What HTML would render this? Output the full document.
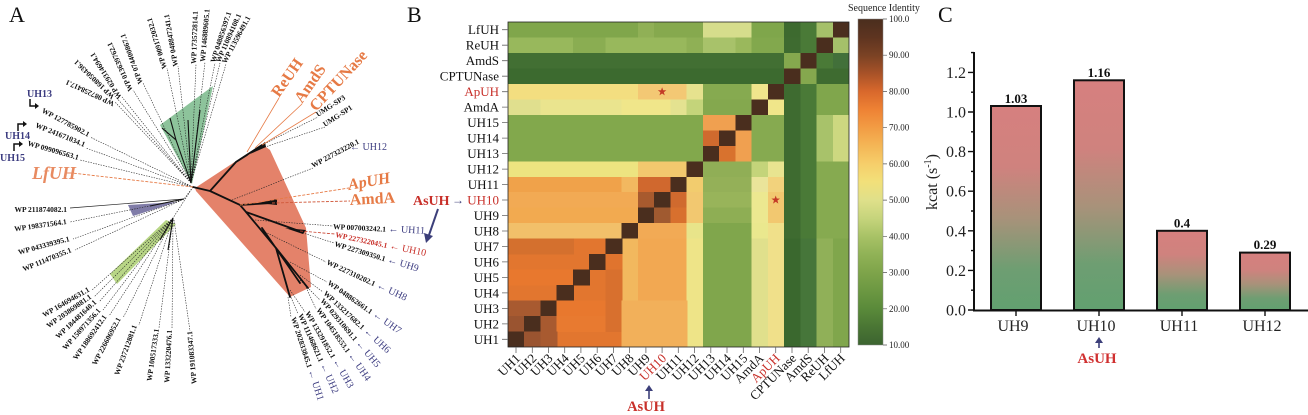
<!DOCTYPE html>
<html><head><meta charset="utf-8">
<style>
html,body{margin:0;padding:0;background:#fff;}
svg{display:block;font-family:"Liberation Serif",serif;}
.wp{font-size:7.5px;font-weight:bold;fill:#111;}
.nv{font-size:10px;fill:#3c3c80;}
.dl{stroke:#222;stroke-width:0.6;stroke-dasharray:1.4 1.2;fill:none;}
.bl{stroke:#111;stroke-width:1.8;fill:none;stroke-linecap:round;}
.ol{stroke:#e67a45;stroke-width:0.8;fill:none;}
.rl{stroke:#c8402e;stroke-width:0.8;stroke-dasharray:3 1.5;fill:none;}
.org{fill:#e67a45;font-weight:bold;font-size:16px;}
.rowl{font-size:13px;fill:#111;text-anchor:end;}
.coll{font-size:13px;fill:#111;text-anchor:end;}
.cb{font-size:9px;fill:#222;}
.ax{font-size:16px;fill:#222;}
</style></head>
<body>
<svg width="1308" height="415" viewBox="0 0 1308 415" xmlns="http://www.w3.org/2000/svg">
<defs>
<linearGradient id="cbg" x1="0" y1="0" x2="0" y2="1">
<stop offset="0" stop-color="#4a2e1e"/><stop offset=".056" stop-color="#5e3420"/><stop offset=".111" stop-color="#7a4224"/>
<stop offset=".167" stop-color="#a85228"/><stop offset=".222" stop-color="#d8682c"/><stop offset=".278" stop-color="#ee8234"/>
<stop offset=".333" stop-color="#f29c44"/><stop offset=".389" stop-color="#f4b656"/><stop offset=".444" stop-color="#f6ce6a"/>
<stop offset=".5" stop-color="#f2e07a"/><stop offset=".556" stop-color="#dfe08a"/><stop offset=".611" stop-color="#c6d47c"/>
<stop offset=".667" stop-color="#a8c266"/><stop offset=".722" stop-color="#90b256"/><stop offset=".778" stop-color="#7ea44a"/>
<stop offset=".833" stop-color="#6c9842"/><stop offset=".889" stop-color="#5a8a3a"/><stop offset=".944" stop-color="#4a7634"/>
<stop offset="1" stop-color="#3c6430"/>
</linearGradient>
<linearGradient id="bar" x1="0" y1="0" x2="0" y2="1">
<stop offset="0" stop-color="#d6807f"/><stop offset=".3" stop-color="#cf827e"/><stop offset=".55" stop-color="#a8927a"/>
<stop offset=".8" stop-color="#6e9e72"/><stop offset="1" stop-color="#62a070"/>
</linearGradient>
</defs>

<!-- ================= PANEL A ================= -->
<text x="9" y="22" font-size="22" fill="#111">A</text>

<!-- wedges -->
<polygon points="195,188 262,144 270,150 306,228 311,287 290,297 196,191" fill="#e4826a"/>
<polygon points="160,125 213,86 192,184" fill="#8dc39b"/>
<polygon points="128,205 177,202 133,216" fill="#807ca8"/>
<polygon points="110,274 166,220 176,224 117,284" fill="#b8d686"/>

<!-- top group lines -->
<g class="dl">
<path d="M191,183 L167,68 M191,183 L178,66 M191,183 L196,64 M191,183 L205,62 M191,183 L215,63 M191,183 L220,63 M191,183 L226,64 M191,183 L143,83 M191,183 L133,90 M191,183 L122,97 M191,183 L115,96 M191,183 L115,102"/>
<path d="M193,187 L90,137 M193,187 L86,148 M193,187 L80,160"/>
<path d="M193,187 L184,199 M193,187 L173,218"/>
<path d="M184,199 L70,222 M184,199 L73,239 M184,199 L75,250"/>
<path d="M173,218 L92,290 M173,218 L94,297 M173,218 L99,302 M173,218 L103,310 M173,218 L109,316 M173,218 L123,318 M173,218 L139,325 M173,218 L159,328 M173,220 L172,329 M174,220 L190,331"/>
<path d="M262,145 L318,117 M262,148 L325,127 M232,200 L313,168 M255,220 L333,226 M300,232 L334,243 M265,232 L326,262 M290,262 L327,282 M300,275 L323,292 M300,280 L320,300 M305,285 L316,309 M290,290 L305,312 M290,295 L298,314 M288,297 L291,317"/>
</g>
<path d="M184,199 L70,208" stroke="#222" stroke-width="0.7"/>
<g stroke="#111" stroke-width="1.1" fill="none">
<path d="M191,183 L176,140 L162,128 M191,183 L188,120 M191,183 L200,110 M176,140 L170,118"/>
<path d="M173,218 L160,240 M173,218 L168,250 M184,199 L150,206"/>
</g>
<!-- salmon internal -->
<g class="bl">
<path d="M193,187 L210,191 L236,162 L262,145 M236,162 L247,155 M210,191 L240,205 L272,203 M240,205 L246,212 L302,232 M246,212 L276,248 L308,288 M276,248 L290,297 M262,228 L300,283"/>
</g>
<polygon points="258,203 277,199 277,205" fill="#111"/>
<polygon points="285,228 306,230 303,234" fill="#111"/>
<polygon points="250,154 265,142 266,147" fill="#111"/>
<g class="ol">
<path d="M247,152 L279,98 M255,148 L302,104 M262,145 L316,112"/>
</g>
<path d="M193,187 L72,173" stroke="#e67a45" stroke-width="0.9" stroke-dasharray="3 1.5"/>
<path d="M240,205 L349,188" stroke="#e67a45" stroke-width="0.9" stroke-dasharray="3 1.5"/>
<path d="M272,203 L350,201" stroke="#d0583a" stroke-width="0.9" stroke-dasharray="3 1.5"/>
<path class="rl" d="M300,231 L335,234"/>

<!-- top labels (non flipped) -->
<g class="wp">
<text transform="translate(167 68) rotate(-107)">WP 009172032.1</text>
<text transform="translate(178 66) rotate(-100)">WP 048847241.1</text>
<text transform="translate(196 64) rotate(-88)">WP 173572814.1</text>
<text transform="translate(205 62) rotate(-85)">WP 146889605.1</text>
<text transform="translate(215 63) rotate(-72)">WP 048856397.1</text>
<text transform="translate(220 63) rotate(-66)">WP 110894108.1</text>
<text transform="translate(226 64) rotate(-62)">WP 113596491.1</text>
<text transform="translate(143 83) rotate(-110)">WP 074400867.1</text>
<text transform="translate(133 90) rotate(-114)">WP 013639762.1</text>
<text transform="translate(122 97) rotate(-122)">WP 029314694.1</text>
<text transform="translate(115 96) rotate(-136)">WP 168050436.1</text>
<text transform="translate(115 102) rotate(-155)">WP 087258417.1</text>
</g>
<!-- left flipped -->
<g class="wp" text-anchor="end">
<text transform="translate(88 137) rotate(28)">WP 127785902.1</text>
<text transform="translate(84 147) rotate(22)">WP 241671034.1</text>
<text transform="translate(78 160) rotate(16)">WP 099096563.1</text>
<text transform="translate(67 212)">WP 211874082.1</text>
<text transform="translate(67 224) rotate(-8)">WP 198371564.1</text>
<text transform="translate(70 241) rotate(-15)">WP 043339395.1</text>
<text transform="translate(72 252) rotate(-22)">WP 111470355.1</text>
<text transform="translate(90 291) rotate(-30)">WP 164694631.1</text>
<text transform="translate(92 298) rotate(-35)">WP 203869881.1</text>
<text transform="translate(97 303) rotate(-43)">WP 184481640.1</text>
<text transform="translate(101 311) rotate(-48)">WP 158971356.1</text>
<text transform="translate(107 317) rotate(-55)">WP 188692412.1</text>
<text transform="translate(121 319) rotate(-62)">WP 226606952.1</text>
<text transform="translate(137 326) rotate(-70)">WP 237212881.1</text>
<text transform="translate(159 329) rotate(-82)">WP 100517333.1</text>
<text transform="translate(172 330) rotate(-87)">WP 133220476.1</text>
<text transform="translate(192 331) rotate(-95)">WP 191083347.1</text>
</g>
<g font-weight="bold" font-size="10" fill="#3c3c80">
<text x="27" y="97">UH13</text>
<text x="5" y="139">UH14</text>
<text x="0" y="161">UH15</text>
</g>
<g stroke="#111" stroke-width="1.5" fill="none">
<path d="M30,99 V106 H36"/><path d="M18,131 V124 H24"/><path d="M14,151 V144 H20"/>
</g>
<g fill="#111">
<polygon points="39,106 35,103 35,109"/><polygon points="27,124 23,121 23,127"/><polygon points="23,144 19,141 19,147"/>
</g>
<text x="32" y="179" font-size="18" font-weight="bold" font-style="italic" fill="#e88a60">LfUH</text>

<!-- right labels -->
<g class="org">
<text transform="translate(279 98) rotate(-55)">ReUH</text>
<text transform="translate(302 104) rotate(-55)">AmdS</text>
<text transform="translate(316 112) rotate(-47)">CPTUNase</text>
<text transform="translate(349 190) rotate(-10)" font-style="italic">ApUH</text>
<text transform="translate(350 205) rotate(-3)">AmdA</text>
</g>
<g class="wp">
<text transform="translate(318 117) rotate(-33)">UMG-SP3</text>
<text transform="translate(325 127) rotate(-33)">UMG-SP1</text>
<text transform="translate(313 168) rotate(-28)">WP 227323220.1</text>
</g>
<text x="350" y="150" class="nv">← UH12</text>
<g>
<text transform="translate(333 229) rotate(3)"><tspan class="wp">WP 007003242.1</tspan><tspan class="nv"> ← UH11</tspan></text>
<text transform="translate(335 237) rotate(12)" fill="#c8302a"><tspan font-size="7.5" font-weight="bold">WP 227322045.1</tspan><tspan font-size="10"> ← UH10</tspan></text>
<text transform="translate(334 246) rotate(17)"><tspan class="wp">WP 227309350.1</tspan><tspan class="nv"> ← UH9</tspan></text>
<text transform="translate(326 264) rotate(25)"><tspan class="wp">WP 227310202.1</tspan><tspan class="nv"> ← UH8</tspan></text>
<text transform="translate(327 284) rotate(35)"><tspan class="wp">WP 048862661.1</tspan><tspan class="nv"> ← UH7</tspan></text>
<text transform="translate(323 294) rotate(43)"><tspan class="wp">WP 133217682.1</tspan><tspan class="nv"> ← UH6</tspan></text>
<text transform="translate(320 301) rotate(50)"><tspan class="wp">WP 029310691.1</tspan><tspan class="nv"> ← UH5</tspan></text>
<text transform="translate(316 310) rotate(55)"><tspan class="wp">WP 104518553.1</tspan><tspan class="nv"> ← UH4</tspan></text>
<text transform="translate(305 313) rotate(60)"><tspan class="wp">WP 133291852.1</tspan><tspan class="nv"> ← UH3</tspan></text>
<text transform="translate(298 315) rotate(66)"><tspan class="wp">WP 111468621.1</tspan><tspan class="nv"> ← UH2</tspan></text>
<text transform="translate(291 318) rotate(72)"><tspan class="wp">WP 202833845.1</tspan><tspan class="nv"> ← UH1</tspan></text>
</g>
<!-- AsUH arrow to UH10 -->
<path d="M438,209 L429,235" stroke="#3c3f7a" stroke-width="2" fill="none"/>
<polygon points="426,243 424,233 433,236" fill="#3c3f7a"/>

<!-- ================= PANEL B ================= -->
<text x="407" y="22" font-size="22" fill="#111">B</text>
<svg x="508" y="22" width="341" height="325" viewBox="0 0 21 21" preserveAspectRatio="none" shape-rendering="crispEdges">
<!-- row 0 LfUH -->
<rect x="0" y="0" width="8.05" height="1.03" fill="#80a64b"/><rect x="8" y="0" width="1.05" height="1.03" fill="#90b056"/><rect x="9" y="0" width="3.05" height="1.03" fill="#86a94e"/><rect x="12" y="0" width="3.05" height="1.03" fill="#d6dd8c"/><rect x="15" y="0" width="2.05" height="1.03" fill="#7fa64b"/><rect x="17" y="0" width="1.05" height="1.03" fill="#3d6a2f"/><rect x="18" y="0" width="1.05" height="1.03" fill="#4a7a37"/><rect x="19" y="0" width="1.05" height="1.03" fill="#a5c06a"/><rect x="20" y="0" width="1" height="1.03" fill="#4a2e1e"/>
<!-- row 1 ReUH -->
<rect x="0" y="1" width="4.05" height="1.03" fill="#98b85c"/><rect x="4" y="1" width="2.05" height="1.03" fill="#8aad52"/><rect x="6" y="1" width="5.05" height="1.03" fill="#98b85c"/><rect x="11" y="1" width="1.05" height="1.03" fill="#8fb055"/><rect x="12" y="1" width="2.05" height="1.03" fill="#a8c26a"/><rect x="14" y="1" width="1.05" height="1.03" fill="#9ab85c"/><rect x="15" y="1" width="2.05" height="1.03" fill="#82a84d"/><rect x="17" y="1" width="1.05" height="1.03" fill="#3e6b30"/><rect x="18" y="1" width="1.05" height="1.03" fill="#4a7a37"/><rect x="19" y="1" width="1.05" height="1.03" fill="#4a2e1e"/><rect x="20" y="1" width="1" height="1.03" fill="#a5c06a"/>
<!-- row 2 AmdS -->
<rect x="0" y="2" width="17.05" height="1.03" fill="#426f33"/><rect x="17" y="2" width="1.05" height="1.03" fill="#85a84e"/><rect x="18" y="2" width="1.05" height="1.03" fill="#4a2e1e"/><rect x="19" y="2" width="1.05" height="1.03" fill="#4a7a37"/><rect x="20" y="2" width="1" height="1.03" fill="#42703a"/>
<!-- row 3 CPTUNase -->
<rect x="0" y="3" width="17.05" height="1.03" fill="#3c6a2f"/><rect x="17" y="3" width="1.05" height="1.03" fill="#4a2e1e"/><rect x="18" y="3" width="1.05" height="1.03" fill="#85a84e"/><rect x="19" y="3" width="2" height="1.03" fill="#3e6b30"/>
<!-- row 4 ApUH -->
<rect x="0" y="4" width="8.05" height="1.03" fill="#f3de80"/><rect x="8" y="4" width="3.05" height="1.03" fill="#f3c874"/><rect x="11" y="4" width="1.05" height="1.03" fill="#e6e28e"/><rect x="12" y="4" width="3.05" height="1.03" fill="#86aa50"/><rect x="15" y="4" width="1.05" height="1.03" fill="#f0e68c"/><rect x="16" y="4" width="1.05" height="1.03" fill="#4a2e1e"/><rect x="17" y="4" width="1.05" height="1.03" fill="#3e6b30"/><rect x="18" y="4" width="1.05" height="1.03" fill="#4a7a37"/><rect x="19" y="4" width="2" height="1.03" fill="#80a64c"/>
<!-- row 5 AmdA -->
<rect x="0" y="5" width="2.05" height="1.03" fill="#e0df8e"/><rect x="2" y="5" width="5.05" height="1.03" fill="#eae48e"/><rect x="7" y="5" width="3.05" height="1.03" fill="#f0e68a"/><rect x="10" y="5" width="1.05" height="1.03" fill="#e4e290"/><rect x="11" y="5" width="1.05" height="1.03" fill="#c4d47a"/><rect x="12" y="5" width="3.05" height="1.03" fill="#84a84e"/><rect x="15" y="5" width="1.05" height="1.03" fill="#4a2e1e"/><rect x="16" y="5" width="1.05" height="1.03" fill="#f0e68a"/><rect x="17" y="5" width="1.05" height="1.03" fill="#3e6b30"/><rect x="18" y="5" width="1.05" height="1.03" fill="#4a7a37"/><rect x="19" y="5" width="2" height="1.03" fill="#80a64c"/>
<!-- rows 6-8 UH15,UH14,UH13 -->
<rect x="0" y="6" width="12.05" height="3.03" fill="#82a84c"/>
<rect x="12" y="6" width="2.05" height="1.03" fill="#f0a050"/><rect x="14" y="6" width="1.05" height="1.03" fill="#4a2e1e"/>
<rect x="12" y="7" width="1.05" height="1.03" fill="#d06a2e"/><rect x="13" y="7" width="1.05" height="1.03" fill="#4a2e1e"/><rect x="14" y="7" width="1.05" height="1.03" fill="#f0a050"/>
<rect x="12" y="8" width="1.05" height="1.03" fill="#4a2e1e"/><rect x="13" y="8" width="1.05" height="1.03" fill="#d8722e"/><rect x="14" y="8" width="1.05" height="1.03" fill="#f0a050"/>
<rect x="15" y="6" width="2.05" height="3.03" fill="#86aa50"/><rect x="17" y="6" width="1.05" height="3.03" fill="#3e6b30"/><rect x="18" y="6" width="1.05" height="3.03" fill="#4a7a37"/><rect x="19" y="6" width="1.05" height="3.03" fill="#a8c26a"/><rect x="20" y="6" width="1" height="3.03" fill="#cdd880"/>
<!-- row 9 UH12 -->
<rect x="0" y="9" width="8.05" height="1.03" fill="#ede480"/><rect x="8" y="9" width="3.05" height="1.03" fill="#f2c86e"/><rect x="11" y="9" width="1.05" height="1.03" fill="#4a2e1e"/><rect x="12" y="9" width="3.05" height="1.03" fill="#90ae56"/><rect x="15" y="9" width="1.05" height="1.03" fill="#c4d47a"/><rect x="16" y="9" width="1.05" height="1.03" fill="#e8e490"/><rect x="17" y="9" width="1.05" height="1.03" fill="#3e6b30"/><rect x="18" y="9" width="1.05" height="1.03" fill="#4a7a37"/><rect x="19" y="9" width="2" height="1.03" fill="#86aa50"/>
<!-- row 10 UH11 -->
<rect x="0" y="10" width="7.05" height="1.03" fill="#f0a24a"/><rect x="7" y="10" width="1.05" height="1.03" fill="#f2b860"/><rect x="8" y="10" width="2.05" height="1.03" fill="#d0682e"/><rect x="10" y="10" width="1.05" height="1.03" fill="#4a2e1e"/><rect x="11" y="10" width="1.05" height="1.03" fill="#f2cc6e"/><rect x="12" y="10" width="3.05" height="1.03" fill="#94b058"/><rect x="15" y="10" width="1.05" height="1.03" fill="#eae49a"/><rect x="16" y="10" width="1.05" height="1.03" fill="#f2d27c"/>
<!-- row 11 UH10 -->
<rect x="0" y="11" width="8.05" height="1.03" fill="#f2aa54"/><rect x="8" y="11" width="1.05" height="1.03" fill="#a85a2e"/><rect x="9" y="11" width="1.05" height="1.03" fill="#4a2e1e"/><rect x="10" y="11" width="1.05" height="1.03" fill="#d06a2e"/><rect x="11" y="11" width="1.05" height="1.03" fill="#f2c870"/><rect x="12" y="11" width="3.05" height="1.03" fill="#98b45a"/><rect x="15" y="11" width="1.05" height="1.03" fill="#ece890"/><rect x="16" y="11" width="1.05" height="1.03" fill="#f2c870"/>
<!-- row 12 UH9 -->
<rect x="0" y="12" width="8.05" height="1.03" fill="#f2aa50"/><rect x="8" y="12" width="1.05" height="1.03" fill="#4a2e1e"/><rect x="9" y="12" width="1.05" height="1.03" fill="#a05a30"/><rect x="10" y="12" width="1.05" height="1.03" fill="#d8702e"/><rect x="11" y="12" width="1.05" height="1.03" fill="#f2c870"/><rect x="12" y="12" width="3.05" height="1.03" fill="#8eae54"/><rect x="15" y="12" width="1.05" height="1.03" fill="#ece890"/><rect x="16" y="12" width="1.05" height="1.03" fill="#f2c870"/>
<!-- row 13 UH8 -->
<rect x="0" y="13" width="7.05" height="1.03" fill="#f2c06a"/><rect x="7" y="13" width="1.05" height="1.03" fill="#4a2e1e"/><rect x="8" y="13" width="3.05" height="1.03" fill="#f2aa55"/><rect x="11" y="13" width="1.05" height="1.03" fill="#e8e48a"/><rect x="12" y="13" width="3.05" height="1.03" fill="#80a64c"/><rect x="15" y="13" width="1.05" height="1.03" fill="#eae88e"/><rect x="16" y="13" width="1.05" height="1.03" fill="#f0e08a"/>
<!-- rows 10-13 tail -->
<rect x="17" y="10" width="1.05" height="4.03" fill="#3e6b30"/><rect x="18" y="10" width="1.05" height="4.03" fill="#4a7a37"/><rect x="19" y="10" width="2" height="4.03" fill="#86aa50"/>
<!-- rows 14-20 -->
<rect x="0" y="14" width="7.05" height="7" fill="#e2762f"/>
<rect x="7" y="14" width="1.05" height="7" fill="#f2b85e"/><rect x="8" y="14" width="3.05" height="7" fill="#f2a852"/>
<rect x="11" y="14" width="1.05" height="7" fill="#eee488"/><rect x="12" y="14" width="3.05" height="7" fill="#80a64c"/><rect x="15" y="14" width="1.05" height="7" fill="#e0e08c"/><rect x="16" y="14" width="1.05" height="7" fill="#f0e08a"/><rect x="17" y="14" width="1.05" height="7" fill="#3a682e"/><rect x="18" y="14" width="1.05" height="7" fill="#46763a"/><rect x="19" y="14" width="1.05" height="7" fill="#90b058"/><rect x="20" y="14" width="1" height="7" fill="#80a64c"/>
<!-- block detail -->
<rect x="0" y="14" width="4.05" height="1.03" fill="#d4702e"/><rect x="6" y="14" width="1.05" height="1.03" fill="#4a2e1e"/>
<rect x="5" y="15" width="1.05" height="1.03" fill="#4a2e1e"/><rect x="6" y="15" width="1.05" height="1.03" fill="#e0742e"/>
<rect x="0" y="16" width="4.05" height="1.03" fill="#e8782e"/><rect x="4" y="16" width="1.05" height="1.03" fill="#4a2e1e"/><rect x="6" y="16" width="1.05" height="1.03" fill="#d8702e"/>
<rect x="3" y="17" width="1.05" height="1.03" fill="#4a2e1e"/><rect x="6" y="17" width="1.05" height="1.03" fill="#d8702e"/>
<rect x="0" y="18" width="2.05" height="1.03" fill="#a85a30"/><rect x="2" y="18" width="1.05" height="1.03" fill="#4a2e1e"/><rect x="3" y="18" width="3.05" height="1.03" fill="#e8782e"/><rect x="6" y="18" width="1.05" height="1.03" fill="#d8702e"/>
<rect x="0" y="19" width="1.05" height="1.03" fill="#9a5430"/><rect x="1" y="19" width="1.05" height="1.03" fill="#4a2e1e"/><rect x="2" y="19" width="1.05" height="1.03" fill="#a85a30"/><rect x="3" y="19" width="3.05" height="1.03" fill="#e87a30"/><rect x="6" y="19" width="1.05" height="1.03" fill="#d8702e"/>
<rect x="0" y="20" width="1.05" height="1" fill="#4a2e1e"/><rect x="1" y="20" width="1.05" height="1" fill="#9a5430"/><rect x="2" y="20" width="1.05" height="1" fill="#a85a30"/>
<rect x="7" y="18" width="4.05" height="3" fill="#f2b05a"/>
</svg>
<rect x="508" y="22" width="341" height="325" fill="none" stroke="#222" stroke-width="0.8"/>
<!-- stars -->
<polygon transform="translate(662.1 91.7)" points="0,-4.5 1.06,-1.46 4.28,-1.39 1.71,0.56 2.65,3.64 0,1.8 -2.65,3.64 -1.71,0.56 -4.28,-1.39 -1.06,-1.46" fill="#c43a26"/>
<polygon transform="translate(775.7 200)" points="0,-4.5 1.06,-1.46 4.28,-1.39 1.71,0.56 2.65,3.64 0,1.8 -2.65,3.64 -1.71,0.56 -4.28,-1.39 -1.06,-1.46" fill="#c43a26"/>
<!-- row ticks -->
<g stroke="#666" stroke-width="0.8">
<path d="M502,29.7H508M502,45.2H508M502,60.7H508M502,76.2H508M502,91.7H508M502,107.1H508M502,122.6H508M502,138.1H508M502,153.6H508M502,169.1H508M502,184.5H508M502,200H508M502,215.5H508M502,231H508M502,246.4H508M502,261.9H508M502,277.4H508M502,292.9H508M502,308.4H508M502,323.9H508M502,339.3H508"/>
<path d="M516,347V353M532.3,347V353M548.5,347V353M564.7,347V353M580.9,347V353M597.2,347V353M613.4,347V353M629.6,347V353M645.9,347V353M662.1,347V353M678.3,347V353M694.6,347V353M710.8,347V353M727,347V353M743.3,347V353M759.5,347V353M775.7,347V353M792,347V353M808.2,347V353M824.4,347V353M840.7,347V353"/>
</g>
<g class="rowl">
<text x="499" y="34.2">LfUH</text><text x="499" y="49.7">ReUH</text><text x="499" y="65.2">AmdS</text><text x="499" y="80.7">CPTUNase</text>
<text x="499" y="96.2" fill="#c8302a">ApUH</text><text x="499" y="111.6">AmdA</text><text x="499" y="127.1">UH15</text><text x="499" y="142.6">UH14</text>
<text x="499" y="158.1">UH13</text><text x="499" y="173.6">UH12</text><text x="499" y="189">UH11</text><text x="499" y="204.5" fill="#c8302a">UH10</text>
<text x="499" y="220">UH9</text><text x="499" y="235.5">UH8</text><text x="499" y="250.9">UH7</text><text x="499" y="266.4">UH6</text>
<text x="499" y="281.9">UH5</text><text x="499" y="297.4">UH4</text><text x="499" y="312.9">UH3</text><text x="499" y="328.4">UH2</text><text x="499" y="343.8">UH1</text>
</g>
<text x="413" y="205" font-size="14" font-weight="bold" fill="#c8302a">AsUH</text>
<text x="452" y="204" font-size="12" fill="#3c3f7a" font-weight="bold">→</text>
<g class="coll">
<text transform="translate(521 359) rotate(-45)">UH1</text>
<text transform="translate(537.3 359) rotate(-45)">UH2</text>
<text transform="translate(553.5 359) rotate(-45)">UH3</text>
<text transform="translate(569.7 359) rotate(-45)">UH4</text>
<text transform="translate(585.9 359) rotate(-45)">UH5</text>
<text transform="translate(602.2 359) rotate(-45)">UH6</text>
<text transform="translate(618.4 359) rotate(-45)">UH7</text>
<text transform="translate(634.6 359) rotate(-45)">UH8</text>
<text transform="translate(650.9 359) rotate(-45)">UH9</text>
<text transform="translate(667.1 359) rotate(-45)" fill="#c8302a">UH10</text>
<text transform="translate(683.3 359) rotate(-45)">UH11</text>
<text transform="translate(699.6 359) rotate(-45)">UH12</text>
<text transform="translate(715.8 359) rotate(-45)">UH13</text>
<text transform="translate(732 359) rotate(-45)">UH14</text>
<text transform="translate(748.3 359) rotate(-45)">UH15</text>
<text transform="translate(764.5 359) rotate(-45)">AmdA</text>
<text transform="translate(780.7 359) rotate(-45)" fill="#c8302a">ApUH</text>
<text transform="translate(797 359) rotate(-45)">CPTUNase</text>
<text transform="translate(813.2 359) rotate(-45)">AmdS</text>
<text transform="translate(829.4 359) rotate(-45)">ReUH</text>
<text transform="translate(845.7 359) rotate(-45)">LfUH</text>
</g>
<path d="M649,399 V389" stroke="#3c3f7a" stroke-width="1.6"/>
<polygon points="649,385 645,391 653,391" fill="#3c3f7a"/>
<text x="646" y="411" font-size="14.5" font-weight="bold" fill="#c8302a" text-anchor="middle">AsUH</text>

<!-- colorbar -->
<text x="848" y="11" font-size="10" fill="#222">Sequence Identity</text>
<rect x="858" y="19" width="25" height="326" fill="url(#cbg)" stroke="#888" stroke-width="0.5"/>
<g stroke="#555" stroke-width="0.7">
<path d="M883,19H887M883,55.2H887M883,91.4H887M883,127.7H887M883,163.9H887M883,200.1H887M883,236.3H887M883,272.6H887M883,308.8H887M883,345H887"/>
</g>
<g class="cb">
<text x="889" y="22">100.0</text><text x="889" y="58.2">90.00</text><text x="889" y="94.4">80.00</text><text x="889" y="130.7">70.00</text>
<text x="889" y="166.9">60.00</text><text x="889" y="203.1">50.00</text><text x="889" y="239.3">40.00</text><text x="889" y="275.6">30.00</text>
<text x="889" y="311.8">20.00</text><text x="889" y="348">10.00</text>
</g>

<!-- ================= PANEL C ================= -->
<text x="938" y="22" font-size="22" fill="#111">C</text>
<rect x="991" y="106" width="50" height="204" fill="url(#bar)" stroke="#111" stroke-width="2"/>
<rect x="1074" y="80.3" width="50" height="229.7" fill="url(#bar)" stroke="#111" stroke-width="2"/>
<rect x="1157" y="230.8" width="50" height="79.2" fill="url(#bar)" stroke="#111" stroke-width="2"/>
<rect x="1240" y="252.6" width="50" height="57.4" fill="url(#bar)" stroke="#111" stroke-width="2"/>
<path d="M974,52 V311" stroke="#111" stroke-width="2"/>
<path d="M973,310.5 H1308" stroke="#111" stroke-width="2"/>
<g stroke="#111" stroke-width="1.4">
<path d="M974,310H968M974,270.4H968M974,230.8H968M974,191.2H968M974,151.6H968M974,112H968M974,72.4H968"/>
<path d="M974,290.2H971M974,250.6H971M974,211H971M974,171.4H971M974,131.8H971M974,92.2H971M974,52.6H971"/>
<path d="M1016,311V316M1099,311V316M1182,311V316M1265,311V316"/>
</g>
<g class="ax" text-anchor="end">
<text x="966" y="315.5">0.0</text><text x="966" y="275.9">0.2</text><text x="966" y="236.3">0.4</text><text x="966" y="196.7">0.6</text>
<text x="966" y="157.1">0.8</text><text x="966" y="117.5">1.0</text><text x="966" y="77.9">1.2</text>
</g>
<text transform="translate(937 182) rotate(-90)" font-size="16" fill="#222" text-anchor="middle">kcat (s<tspan font-size="10" dy="-6">-1</tspan><tspan dy="6">)</tspan></text>
<g font-size="13" font-weight="bold" fill="#111" text-anchor="middle">
<text x="1016" y="103">1.03</text><text x="1099" y="77">1.16</text><text x="1182" y="227.5">0.4</text><text x="1265" y="249">0.29</text>
</g>
<g class="ax" text-anchor="middle">
<text x="1013" y="331">UH9</text><text x="1096" y="331">UH10</text><text x="1179" y="331">UH11</text><text x="1262" y="331">UH12</text>
</g>
<path d="M1099,348 V341" stroke="#3c3f7a" stroke-width="1.6"/>
<polygon points="1099,337 1095,343 1103,343" fill="#3c3f7a"/>
<text x="1097" y="363" font-size="15" font-weight="bold" fill="#d03030" text-anchor="middle">AsUH</text>
</svg>
</body></html>
